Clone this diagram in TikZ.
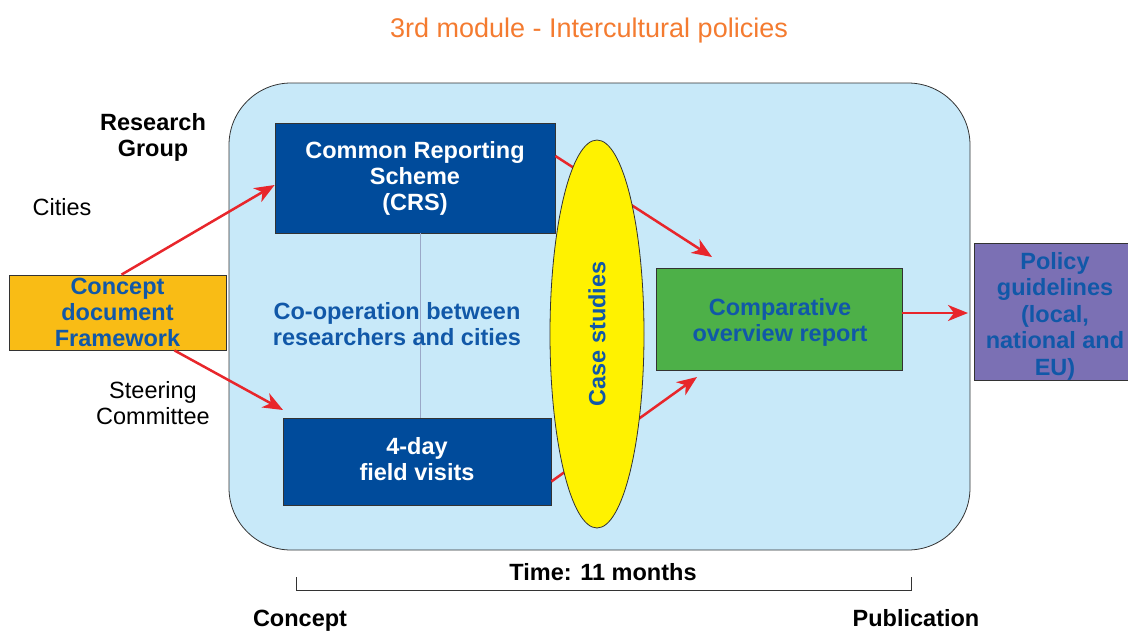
\documentclass[tikz,border=0pt]{standalone}
\usepackage{fontspec}
\setmainfont{Liberation Sans}
\usetikzlibrary{arrows.meta,shapes.geometric,calc}
\definecolor{bgblue}{HTML}{C8E9F9}
\definecolor{boxblue}{HTML}{004B9B}
\definecolor{txtblue}{HTML}{1158A8}
\definecolor{ylw}{HTML}{FFF200}
\definecolor{grn}{HTML}{4DB048}
\definecolor{prp}{HTML}{7B70B4}
\definecolor{org}{HTML}{F9BC15}
\definecolor{arrred}{HTML}{E8262B}
\definecolor{ttlorg}{HTML}{F47B30}
\definecolor{vline}{HTML}{9AA8C8}
\definecolor{edge}{HTML}{333333}
\tikzset{
  fnt/.style={font=\fontsize{23.5}{26}\selectfont},
  boxfnt/.style={font=\fontsize{23.5}{26}\selectfont\bfseries},
  blk/.style={draw=edge, line width=0.8pt, rectangle, inner sep=0pt, align=center, boxfnt},
  redarrow/.style={draw=arrred, line width=2.5pt, -{Stealth[length=20pt,width=16pt,inset=6pt]}},
  lbl/.style={inner sep=0pt, align=center, fnt},
  blbl/.style={inner sep=0pt, align=center, boxfnt},
}
\begin{document}
\begin{tikzpicture}[x=1pt,y=-1pt]
\useasboundingbox (0,0) rectangle (1128,630);
\clip (0,0) rectangle (1128,630);
% title
\node[inner sep=0pt, text=ttlorg, font=\fontsize{27}{30}\selectfont] (title) at (589,31) {3rd module - Intercultural policies};
% background
\draw[draw=edge, line width=0.8pt, fill=bgblue, rounded corners=62pt] (229,83) rectangle (970,550);
% boxes
\node[blk, fill=boxblue, text=white, minimum width=280pt, minimum height=110pt] (crs) at (415,178) {Common Reporting\\Scheme\\(CRS)};
\node[blk, fill=boxblue, minimum width=268pt, minimum height=87pt] (fv) at (417,461.5) {};
\node[blbl, text=white] (fvt) at (417,459) {4-day\\field visits};
\node[blk, fill=grn, minimum width=246pt, minimum height=102pt] (cmp) at (779,319) {};
\node[blbl, text=txtblue] (cmpt) at (780,322) {Comparative\\overview report};
\node[blk, fill=prp, minimum width=162pt, minimum height=137pt] (pol) at (1055,311.5) {};
\node[blbl, text=txtblue, font=\fontsize{23.5}{26.5}\selectfont\bfseries] (polt) at (1055,316) {Policy\\guidelines\\(local,\\national and\\EU)};
\node[blk, fill=org, text=txtblue, minimum width=217pt, minimum height=75pt] (cdf) at (117.5,312.5) {Concept\\document\\Framework};
% vertical line
\draw[vline, line width=0.8pt] ([xshift=5pt]crs.south) -- ([xshift=5pt]crs.south |- fv.north);
% cooperation text
\node[blbl, text=txtblue] (coop) at (397,324) {Co-operation between\\researchers and cities};
% arrows
\coordinate (a1) at (712,257);
\coordinate (a2) at (697,377);
\coordinate (a3) at (283,410);
\coordinate (a4) at (968,313);
\draw[redarrow] ([xshift=4pt]cdf.north) -- ([yshift=-7pt]crs.west);
\draw[redarrow] ([xshift=-52pt]cdf.south east) -- (a3);
\draw[redarrow] ([yshift=22pt]crs.east) -- (a1);
\draw[redarrow] ([yshift=-20pt]fv.east) -- (a2);
\draw[redarrow] (cmp.east |- a4) -- (a4);
% ellipse
\node[ellipse, draw=edge, line width=0.8pt, fill=ylw, minimum width=94pt, minimum height=388pt, inner sep=0pt] (cs) at (597,334) {};
\node[blbl, text=txtblue, rotate=90] (cst) at (cs.center) {Case studies};
% side labels
\node[blbl] (rg) at (153,137) {Research\\Group};
\node[lbl] (cit) at (62,207) {Cities};
\node[lbl] (sc) at (153,403) {Steering\\Committee};
% timeline
\coordinate (t1) at (296,577);
\coordinate (t2) at (911,577);
\draw[edge, line width=0.9pt] (t1) -- ++(0,13) -| (t2);
\node[blbl] (time) at (603,572) {Time: 11 months};
\node[blbl, anchor=base] (con) at (300,626) {Concept};
\node[blbl, anchor=base] (pub) at (916,626) {Publication};
\end{tikzpicture}
\end{document}
